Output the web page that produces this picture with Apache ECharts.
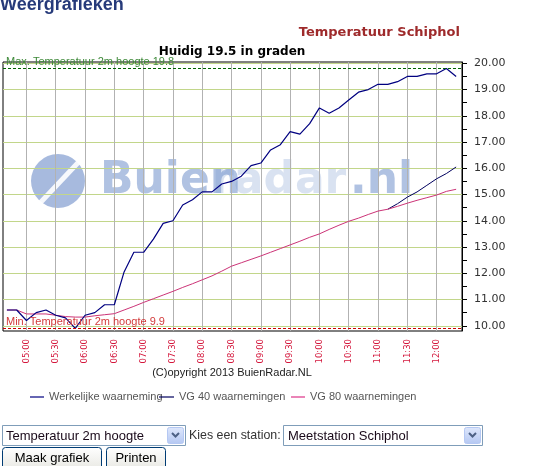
<!DOCTYPE html>
<html><head><meta charset="utf-8">
<script src="https://cdn.jsdelivr.net/npm/echarts@6/dist/echarts.min.js"></script>
<style>html,body{margin:0;padding:0;background:#fff;overflow:hidden}#c{width:535px;height:466px}</style>
</head><body><div id="c"></div>
<script>
// ---- data ----
const times = ['04:40','04:50','05:00','05:10','05:20','05:30','05:40','05:50','06:00','06:10','06:20','06:30','06:40','06:50','07:00','07:10','07:20','07:30','07:40','07:50','08:00','08:10','08:20','08:30','08:40','08:50','09:00','09:10','09:20','09:30','09:40','09:50','10:00','10:10','10:20','10:30','10:40','10:50','11:00','11:10','11:20','11:30','11:40','11:50','12:00','12:10','12:20'];
const actual = [10.6,10.6,10.2,10.5,10.6,10.4,10.3,9.9,10.4,10.5,10.8,10.8,12.05,12.8,12.8,13.3,13.9,14.0,14.6,14.8,15.1,15.1,15.4,15.5,15.7,16.1,16.2,16.7,16.9,17.4,17.3,17.7,18.3,18.1,18.3,18.6,18.9,19.0,19.2,19.2,19.3,19.5,19.5,19.6,19.6,19.8,19.5];
const vg40 = [null,null,null,null,null,null,null,null,null,null,null,null,null,null,null,null,null,null,null,null,null,null,null,null,null,null,null,null,null,null,null,null,null,null,null,null,null,null,null,14.44,14.65,14.9,15.1,15.35,15.6,15.8,16.05];
const vg80 = [10.6,10.6,10.45,10.45,10.45,10.4,10.35,10.33,10.33,10.38,10.42,10.46,10.6,10.74,10.89,11.03,11.17,11.31,11.46,11.6,11.75,11.9,12.08,12.27,12.4,12.53,12.66,12.8,12.94,13.08,13.22,13.37,13.5,13.67,13.83,13.98,14.1,14.24,14.37,14.44,14.55,14.67,14.78,14.88,14.98,15.12,15.2];
const xTickLabels = ['05:00','05:30','06:00','06:30','07:00','07:30','08:00','08:30','09:00','09:30','10:00','10:30','11:00','11:30','12:00'];
const yTickValues = [10,11,12,13,14,15,16,17,18,19,20];
const yHalfTicks = [10.5,11.5,12.5,13.5,14.5,15.5,16.5,17.5,18.5,19.5];
const maxTemp = 19.8, minTemp = 9.9, current = 19.5;
const seriesNames = ['Werkelijke waarneming','VG 40 waarnemingen','VG 80 waarnemingen'];

const toMin = s => parseInt(s.slice(0,2),10)*60 + parseInt(s.slice(3),10);
const fmt = m => String(Math.floor(m/60)).padStart(2,'0') + ':' + String(m%60).padStart(2,'0');
const xTicks = xTickLabels.map(toMin);
const pairs = arr => times.map((t,i) => [toMin(t), arr[i]]);

const chart = echarts.init(document.getElementById('c'), null, {renderer:'canvas'});
const AR = 'Liberation Sans, Arial, sans-serif';
const VD = 'DejaVu Sans, Verdana, sans-serif';

function legend(name, left, w){
  return {data:[name], left:left, top:391, padding:0, itemWidth:w, itemHeight:1.2, icon:'rect',
    textStyle:{fontFamily:AR, fontSize:11, color:'#555', lineHeight:12}, selectedMode:false};
}

const option = {
  animation:false,
  backgroundColor:'#fff',
  legend:[legend(seriesNames[0],30,14), legend(seriesNames[1],159,15), legend(seriesNames[2],291,14)],
  grid:{left:3, right:73, top:62, bottom:135, show:true, borderColor:'#000', borderWidth:1, containLabel:false},
  xAxis:{type:'value', min:276, max:746,
    axisLine:{show:false}, axisTick:{show:false, customValues:xTicks},
    axisLabel:{customValues:xTicks, rotate:90, formatter:v=>fmt(v), color:'#d4173c', fontSize:8.5, fontFamily:VD, margin:8},
    splitLine:{show:true, lineStyle:{color:'#b2b2b2', width:1}}},
  yAxis:[
    {type:'value', position:'right', min:9.8, max:20.05,
     axisLine:{show:true, lineStyle:{color:'#000'}},
     axisTick:{show:true, customValues:yTickValues, length:5, lineStyle:{color:'#000'}},
     axisLabel:{customValues:yTickValues, formatter:v=>v.toFixed(2), color:'#333', fontSize:11, fontFamily:VD, margin:12},
     splitLine:{show:true, lineStyle:{color:'#c2d68a', width:1}}},
    {type:'value', position:'right', min:9.8, max:20.05,
     axisLine:{show:false},
     axisTick:{show:true, customValues:yHalfTicks, length:5, lineStyle:{color:'#000'}},
     axisLabel:{show:false}, splitLine:{show:false}}
  ],
  graphic:[
    // watermark
    {type:'group', z:1, silent:true, children:[
      {type:'circle', shape:{cx:58, cy:181, r:27}, style:{fill:'rgba(95,130,195,0.55)'}},
      {type:'line', shape:{x1:40,y1:203,x2:90,y2:150}, style:{stroke:'rgba(255,255,255,0.9)', lineWidth:5}},
      {type:'text', x:100, y:182, style:{text:'Buien', font:'bold 44px DejaVu Sans', fill:'rgba(80,120,190,0.45)', verticalAlign:'middle'}},
      {type:'text', x:212, y:182, style:{text:'radar', font:'bold 44px DejaVu Sans', fill:'rgba(120,150,205,0.28)', verticalAlign:'middle'}},
      {type:'text', x:350, y:182, style:{text:'.nl', font:'bold 44px DejaVu Sans', fill:'rgba(80,120,190,0.45)', verticalAlign:'middle'}}
    ]},
    {type:'text', x:0, y:5, style:{text:'Weergrafieken', font:'bold 18px '+AR, fill:'#263a7a', verticalAlign:'middle'}},
    {type:'text', x:460, y:32.5, style:{text:'Temperatuur Schiphol', font:'bold 13px '+VD, fill:'#9e2a2b', align:'right', verticalAlign:'middle'}},
    {type:'text', x:232, y:51.5, style:{text:'Huidig '+current+' in graden', font:'bold 12px '+VD, fill:'#000', align:'center', verticalAlign:'middle'}},
    {type:'text', x:232, y:373, style:{text:'(C)opyright 2013 BuienRadar.NL', font:'11px '+AR, fill:'#222', align:'center', verticalAlign:'middle'}},
    // form controls
    {type:'rect', shape:{x:2.5,y:425.5,width:183,height:20}, style:{fill:'#fff', stroke:'#7f9db9', lineWidth:1}},
    {type:'text', x:6, y:436, style:{text:'Temperatuur 2m hoogte', font:'13px '+AR, fill:'#1a0a1a', verticalAlign:'middle'}},
    {type:'rect', shape:{x:167.5,y:427.5,width:16,height:16, r:2}, style:{fill:{type:'linear',x:0,y:0,x2:0,y2:1,colorStops:[{offset:0,color:'#dfe8fc'},{offset:1,color:'#b4c7f2'}]}, stroke:'#b5c8f3', lineWidth:1}},
    {type:'polyline', shape:{points:[[172,433],[175.5,436.5],[179,433]]}, style:{stroke:'#4d6185', lineWidth:2, fill:null}},
    {type:'text', x:189, y:436, style:{text:'Kies een station:', font:'12.4px '+AR, fill:'#333', verticalAlign:'middle'}},
    {type:'rect', shape:{x:283.5,y:425.5,width:199,height:20}, style:{fill:'#fff', stroke:'#7f9db9', lineWidth:1}},
    {type:'text', x:288, y:436, style:{text:'Meetstation Schiphol', font:'13px '+AR, fill:'#1a0a1a', verticalAlign:'middle'}},
    {type:'rect', shape:{x:464.5,y:427.5,width:16,height:16, r:2}, style:{fill:{type:'linear',x:0,y:0,x2:0,y2:1,colorStops:[{offset:0,color:'#dfe8fc'},{offset:1,color:'#b4c7f2'}]}, stroke:'#b5c8f3', lineWidth:1}},
    {type:'polyline', shape:{points:[[469,433],[472.5,436.5],[476,433]]}, style:{stroke:'#4d6185', lineWidth:2, fill:null}},
    {type:'rect', shape:{x:2.5,y:447.5,width:99,height:24, r:3}, style:{fill:{type:'linear',x:0,y:0,x2:0,y2:1,colorStops:[{offset:0,color:'#ffffff'},{offset:1,color:'#e6e6e0'}]}, stroke:'#003c74', lineWidth:1}},
    {type:'text', x:52, y:458, style:{text:'Maak grafiek', font:'13px '+AR, fill:'#000', align:'center', verticalAlign:'middle'}},
    {type:'rect', shape:{x:106.5,y:447.5,width:59,height:24, r:3}, style:{fill:{type:'linear',x:0,y:0,x2:0,y2:1,colorStops:[{offset:0,color:'#ffffff'},{offset:1,color:'#e6e6e0'}]}, stroke:'#003c74', lineWidth:1}},
    {type:'text', x:136, y:458, style:{text:'Printen', font:'13px '+AR, fill:'#000', align:'center', verticalAlign:'middle'}}
  ],
  series:[
    {name:seriesNames[0], type:'line', data:pairs(actual), symbol:'none', z:4,
     lineStyle:{color:'#000080', width:1.2}, itemStyle:{color:'#000080'},
     markLine:{silent:true, symbol:'none', animation:false,
       data:[
         {yAxis:maxTemp, lineStyle:{color:'#006400', type:[3,2], width:1},
          label:{show:true, position:'insideStartTop', distance:[3,1], formatter:'Max. Temperatuur 2m hoogte '+maxTemp, color:'#3f8a3a', fontFamily:AR, fontSize:11}},
         {yAxis:minTemp, lineStyle:{color:'#cc0000', type:[3,2], width:1},
          label:{show:true, position:'insideStartTop', distance:[3,1], formatter:'Min. Temperatuur 2m hoogte '+minTemp, color:'#d23a3a', fontFamily:AR, fontSize:11}}
       ]}},
    {name:seriesNames[1], type:'line', data:pairs(vg40), symbol:'none', z:3,
     lineStyle:{color:'#00005e', width:1}, itemStyle:{color:'#00005e'}},
    {name:seriesNames[2], type:'line', data:pairs(vg80), symbol:'none', z:3,
     lineStyle:{color:'#cc3377', width:1}, itemStyle:{color:'#dd3388'}}
  ]
};
chart.setOption(option);
</script></body></html>
